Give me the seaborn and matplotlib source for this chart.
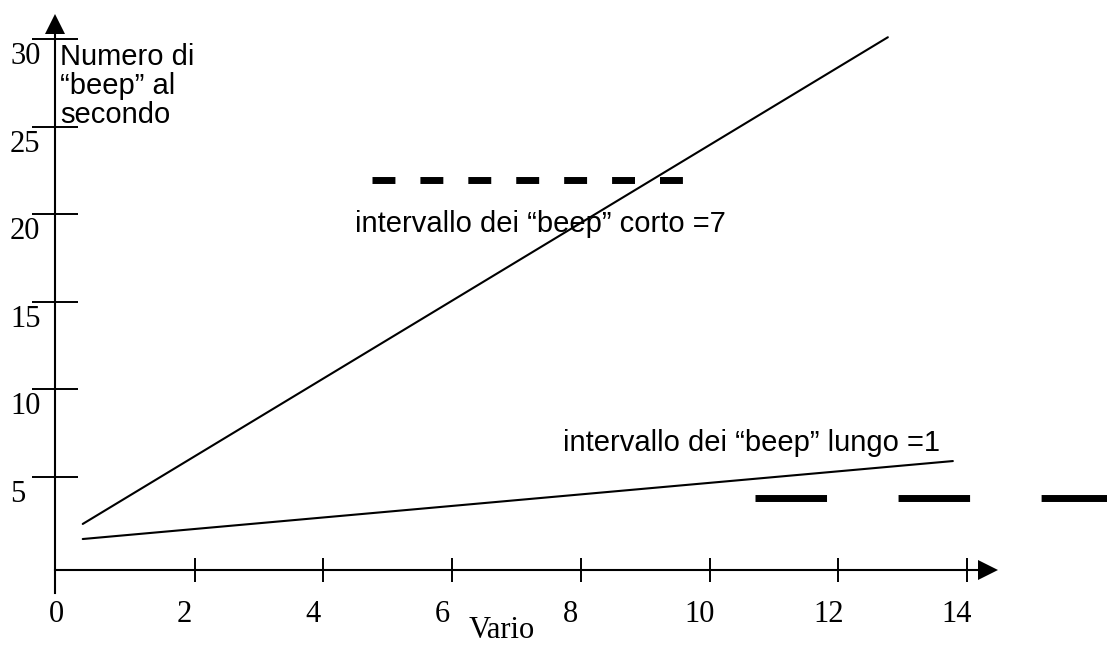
import seaborn as sns
import matplotlib.pyplot as plt

# valori (unita' dei dati)
x_ticks = [0, 2, 4, 6, 8, 10, 12, 14]
y_ticks = [5, 10, 15, 20, 25, 30]

steep_x = [0.26, 12.77]
steep_y = [2.32, 30.1]
flat_x = [0.26, 13.78]
flat_y = [1.46, 5.91]

corto_x = [4.75, 9.59]
corto_y = [21.95, 21.95]
lungo_x = [10.7, 16.2]
lungo_y = [3.8, 3.8]

y_title = "Numero di\n\u201cbeep\u201d al\nsecondo"
corto_label = "intervallo dei \u201cbeep\u201d corto =7"
lungo_label = "intervallo dei \u201cbeep\u201d lungo =1"
x_title = "Vario"

sns.set_style("white")
plt.rcParams['font.family'] = ['Liberation Sans', 'DejaVu Sans']
plt.rcParams['text.color'] = 'black'
serif = ['Liberation Serif', 'DejaVu Serif']

fig = plt.figure(figsize=(11.07, 6.46), dpi=100)
ax = fig.add_axes([0, 0, 1, 1])
ax.set_xlim(-1.0255, 16.175)
ax.set_ylim(-4.646, 32.226)

# posizione degli assi disegnati
y_axis_x = -0.17
x_axis_y = -0.31

sns.despine(ax=ax)
for side in ['left', 'bottom']:
    ax.spines[side].set_color('black')
    ax.spines[side].set_linewidth(1.5)
ax.spines['left'].set_position(('data', y_axis_x))
ax.spines['bottom'].set_position(('data', x_axis_y))
ax.spines['left'].set_bounds(-1.62, 30.34)
ax.spines['bottom'].set_bounds(y_axis_x, 14.17)

# frecce in cima agli assi
ax.plot([y_axis_x], [30.86], marker='^', ms=13.7, mew=0, color='black', clip_on=False)
ax.plot([14.33], [x_axis_y], marker='>', ms=14.4, mew=0, color='black', clip_on=False)

ax.set_xticks(x_ticks[1:], labels=[''] * len(x_ticks[1:]))
ax.set_yticks(y_ticks, labels=[''] * len(y_ticks))
ax.tick_params(axis='x', bottom=True, direction='inout', length=17.3, width=1.4, color='black')
ax.tick_params(axis='y', left=True, direction='inout', length=33.8, width=1.4, color='black')

for v in x_ticks:
    ax.annotate(str(v), xy=(v, x_axis_y), xytext=(-10, -52), textcoords='offset pixels',
                ha='center', va='baseline', fontsize=22, family=serif)
for v in y_ticks:
    ax.annotate(str(v), xy=(y_axis_x, v), xytext=(-45, -25), textcoords='offset pixels',
                ha='left', va='baseline', fontsize=22, family=serif)

# rette
sns.lineplot(x=steep_x, y=steep_y, ax=ax, color='black', linewidth=1.5)
sns.lineplot(x=flat_x, y=flat_y, ax=ax, color='black', linewidth=1.5)

# tratteggi spessi
sns.lineplot(x=corto_x, y=corto_y, ax=ax, color='black', linewidth=5)
ax.lines[-1].set_dashes([3.3, 3.6])
ax.lines[-1].set_dash_capstyle('butt')
sns.lineplot(x=lungo_x, y=lungo_y, ax=ax, color='black', linewidth=5)
ax.lines[-1].set_dashes([10.3, 10.3])
ax.lines[-1].set_dash_capstyle('butt')

ax.text(-0.09, 25.2, y_title, ha='left', va='baseline', fontsize=21, linespacing=1.05)
ax.text(4.49, 18.98, corto_label, ha='left', va='baseline', fontsize=21)
ax.text(7.72, 6.48, lungo_label, ha='left', va='baseline', fontsize=21)
ax.text(6.77, -4.6, x_title, ha='center', va='bottom', fontsize=22, family=serif)

fig.savefig('out.png', dpi=100)
